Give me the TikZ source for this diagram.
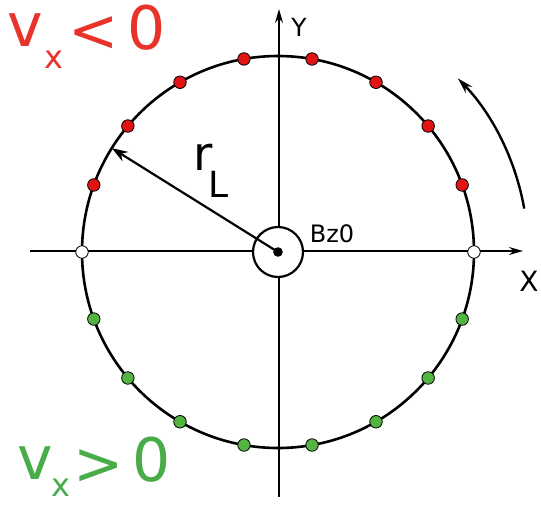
\documentclass[tikz,border=0pt]{standalone}
\usepackage{fontspec}
\setmainfont{DejaVu Sans}
\usetikzlibrary{arrows.meta}
\definecolor{lblred}{RGB}{232,50,42}
\definecolor{lblgreen}{RGB}{72,172,72}
\definecolor{dotred}{RGB}{225,20,20}
\definecolor{dotgreen}{RGB}{85,180,65}
\tikzset{
  big/.style={inner sep=0pt,font=\fontsize{60}{60}\selectfont},
  sub/.style={inner sep=0pt,font=\fontsize{32}{32}\selectfont},
  rdot/.style={circle,draw=black,line width=0.8pt,fill=dotred,minimum size=12.5pt,inner sep=0pt},
  gdot/.style={circle,draw=black,line width=0.8pt,fill=dotgreen,minimum size=12.5pt,inner sep=0pt},
  wdot/.style={circle,draw=black,line width=0.8pt,fill=white,minimum size=12.5pt,inner sep=0pt},
  axis/.style={line width=1.7pt,-{Stealth[length=14pt,width=8pt]}},
  lbl/.style={inner sep=0pt},
}
\begin{document}
\begin{tikzpicture}[x=1pt,y=-1pt]
\useasboundingbox (0,0) rectangle (541,504);
\coordinate (O) at (278,252);
% axes
\coordinate (xl) at (30,251);
\coordinate (xr) at (523,251);
\coordinate (yb) at (279,497);
\coordinate (yt) at (279,9);
\draw[axis] (xl) -- (xr);
\draw[axis] (yb) -- (yt);
% main circle
\draw[line width=2.6pt] (O) circle[radius=196];
% small circle and center dot
\draw[line width=2.2pt,fill=white] (O) circle[radius=25];
\fill (O) circle[radius=4.8];
% radius arrow
\coordinate (rt) at ([shift={(-148:196)}]O);
\draw[line width=2.2pt,-{Stealth[length=16pt,width=11pt]}] (O) -- (rt);
% dots
\foreach \a in {20,40,...,160}{\node[rdot] at ([shift={(-\a:196)}]O) {};}
\foreach \a in {20,40,...,160}{\node[gdot] at ([shift={(\a:196)}]O) {};}
\node[wdot] (w0) at ([shift={(0:196)}]O) {};
\node[wdot] (w180) at ([shift={(180:196)}]O) {};
% rotation arrow
\draw[line width=2.4pt,-{Stealth[length=16pt,width=9pt]}] ([shift={(-10:250)}]O) arc[start angle=-10,end angle=-44,radius=250];
% labels
\node[lbl,font=\fontsize{25}{25}\selectfont] (Ylab) at (299,27) {Y};
\node[lbl,font=\fontsize{28}{28}\selectfont] (Xlab) at (529,281) {X};
\node[lbl,font=\fontsize{24}{24}\selectfont] (Bz) at (332,234) {Bz0};
\node[lbl,font=\fontsize{47}{47}\selectfont] (r) at (203,157) {r};
\node[lbl,font=\fontsize{36}{36}\selectfont] (L) at (219,184) {L};
% vx < 0
\node[big,text=lblred] (v1) at (25,30) {v};
\node[sub,text=lblred] (x1) at (54,60) {x};
\node[big,text=lblred] (lt) at (94,34) {<};
\node[big,text=lblred] (z1) at (147,28) {0};
% vx > 0
\node[big,text=lblgreen] (v2) at (35,463) {v};
\node[sub,text=lblgreen] (x2) at (61,488) {x};
\node[big,text=lblgreen] (gt) at (99,467) {>};
\node[big,text=lblgreen] (z2) at (152,460) {0};
\end{tikzpicture}
\end{document}
